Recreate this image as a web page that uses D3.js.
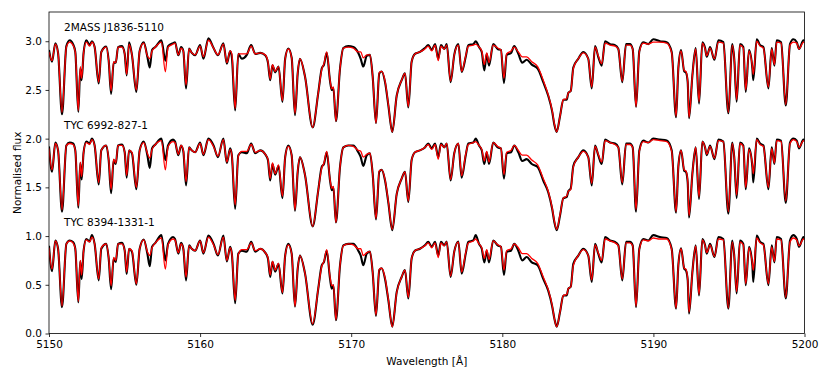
<!DOCTYPE html>
<html>
<head>
<meta charset="utf-8">
<script src="https://cdn.jsdelivr.net/npm/d3@7"></script>
<style>
  body { margin: 0; background: #fff; }
  svg { display: block; font-family: "DejaVu Sans", sans-serif; }
</style>
</head>
<body>
<svg id="chart" width="830" height="383"></svg>
<script>
// wavelength grid, in Angstrom past lambda0
const lambda0 = 5150;
const dLambda = [
  0.00, 0.20, 0.42, 0.60, 0.86, 1.15, 1.37, 1.59, 1.74, 1.94,
  2.07, 2.16, 2.29, 2.47, 2.69, 2.84, 3.02, 3.29, 3.46, 3.79,
  3.95, 4.11, 4.28, 4.42, 4.57, 4.83, 5.01, 5.14, 5.30, 5.49,
  5.78, 6.00, 6.27, 6.51, 6.67, 6.82, 7.04, 7.44, 7.70, 7.88,
  8.21, 8.34, 8.56, 8.74, 8.89, 9.07, 9.27, 9.45, 9.67, 10.00,
  10.22, 10.55, 10.89, 11.18, 11.54, 11.77, 11.99, 12.10, 12.32, 12.53,
  12.76, 13.09, 13.38, 13.65, 13.98, 14.31, 14.49, 14.64, 14.79, 14.97,
  15.19, 15.45, 15.63, 15.84, 16.06, 16.28, 16.46, 16.61, 16.94, 17.45,
  17.82, 18.05, 18.20, 18.38, 18.60, 18.71, 18.82, 18.99, 19.26, 19.48,
  19.81, 20.14, 20.47, 20.63, 20.80, 21.03, 21.24, 21.42, 21.64, 21.86,
  22.02, 22.24, 22.46, 22.72, 23.01, 23.34, 23.56, 23.78, 24.00, 24.22,
  24.55, 24.88, 25.10, 25.33, 25.55, 25.76, 25.94, 26.16, 26.32, 26.58,
  26.82, 27.09, 27.31, 27.58, 27.75, 28.08, 28.24, 28.46, 28.64, 28.81,
  28.97, 29.12, 29.40, 29.70, 29.91, 30.11, 30.29, 30.58, 30.79, 31.06,
  31.32, 31.61, 31.95, 32.34, 32.71, 33.04, 33.30, 33.45, 33.60, 33.82,
  34.04, 34.26, 34.37, 34.53, 34.70, 35.03, 35.36, 35.69, 35.92, 36.14,
  36.35, 36.58, 36.80, 37.13, 37.46, 37.68, 37.94, 38.19, 38.45, 38.63,
  38.85, 39.07, 39.33, 39.66, 39.99, 40.43, 40.88, 41.21, 41.50, 41.65,
  41.83, 42.04, 42.15, 42.27, 42.36, 42.58, 42.80, 43.02, 43.24, 43.42,
  43.53, 43.75, 44.04, 44.30, 44.63, 44.96, 45.22, 45.35, 45.51, 45.73,
  45.95, 46.11, 46.33, 46.55, 46.61, 46.84, 47.06, 47.28, 47.61, 47.83,
  48.01, 48.16, 48.45, 48.76, 49.04, 49.26, 49.49, 49.64, 49.93, 50.00
];

const starNames = ["2MASS J1836-5110", "TYC 6992-827-1", "TYC 8394-1331-1"];
const offsets = [2, 1, 0];

// 2MASS J1836-5110
const obsTop = [
  0.91, 0.79, 0.98, 0.88, 0.25, 0.95, 1.01, 0.97, 0.89, 0.275,
  0.72, 0.60, 0.88, 1.01, 0.96, 1.00, 0.94, 0.566, 0.89, 0.945,
  0.80, 0.46, 0.78, 0.78, 0.94, 0.95, 0.87, 0.65, 0.99, 0.86,
  0.48, 0.90, 0.99, 0.84, 0.73, 0.91, 0.94, 1.01, 0.80, 0.95,
  0.98, 0.99, 0.856, 0.94, 0.90, 0.515, 0.925, 0.88, 0.856, 0.96,
  0.82, 1.03, 0.93, 0.856, 0.98, 0.77, 0.90, 0.84, 0.29, 0.87,
  0.82, 0.86, 0.96, 0.87, 0.88, 0.856, 0.78, 0.60, 0.754, 0.68,
  0.74, 0.377, 0.82, 0.925, 0.83, 0.24, 0.67, 0.82, 0.64, 0.115,
  0.47, 0.72, 0.76, 0.88, 0.59, 0.50, 0.52, 0.18, 0.72, 0.93,
  0.95, 0.94, 0.88, 0.82, 0.74, 0.85, 0.86, 0.64, 0.16, 0.67,
  0.69, 0.58, 0.34, 0.07, 0.44, 0.60, 0.67, 0.32, 0.79, 0.87,
  0.89, 0.93, 0.96, 0.91, 0.97, 0.82, 0.96, 0.92, 0.97, 0.58,
  0.86, 0.97, 0.685, 0.84, 0.96, 0.97, 1.00, 0.94, 0.89, 0.70,
  0.87, 0.75, 0.97, 0.92, 0.91, 0.57, 0.86, 0.88, 0.95, 0.87,
  0.78, 0.81, 0.76, 0.72, 0.58, 0.44, 0.28, 0.14, 0.07, 0.23,
  0.40, 0.40, 0.47, 0.49, 0.73, 0.82, 0.89, 0.82, 0.515, 0.95,
  0.84, 0.75, 1.00, 0.97, 0.96, 0.92, 0.58, 0.97, 0.97, 0.92,
  0.326, 0.90, 0.99, 0.97, 1.02, 1.00, 0.99, 0.89, 0.22, 0.72,
  0.91, 0.69, 0.68, 0.58, 0.21, 0.65, 0.93, 0.36, 0.99, 0.93,
  0.84, 0.94, 0.81, 1.01, 0.99, 0.26, 0.97, 0.82, 0.38, 0.97,
  0.94, 0.48, 0.91, 0.72, 0.60, 1.02, 0.96, 0.94, 0.515, 0.93,
  0.75, 1.01, 0.99, 0.34, 0.97, 1.02, 0.99, 0.92, 1.01, 1.00
];
const modTop = [
  0.89, 0.80, 0.97, 0.88, 0.27, 0.94, 0.99, 0.96, 0.89, 0.29,
  0.74, 0.62, 0.88, 0.99, 0.95, 0.99, 0.94, 0.58, 0.89, 0.94,
  0.80, 0.49, 0.79, 0.78, 0.94, 0.94, 0.87, 0.66, 0.97, 0.86,
  0.50, 0.90, 0.98, 0.85, 0.82, 0.90, 0.94, 0.99, 0.685, 0.94,
  0.97, 0.98, 0.86, 0.93, 0.90, 0.55, 0.92, 0.88, 0.86, 0.95,
  0.84, 1.01, 0.93, 0.86, 0.97, 0.78, 0.90, 0.87, 0.31, 0.87,
  0.87, 0.87, 0.95, 0.87, 0.88, 0.86, 0.79, 0.61, 0.76, 0.69,
  0.74, 0.39, 0.82, 0.92, 0.83, 0.26, 0.68, 0.82, 0.64, 0.115,
  0.47, 0.71, 0.77, 0.89, 0.60, 0.51, 0.53, 0.18, 0.72, 0.93,
  0.94, 0.93, 0.89, 0.89, 0.83, 0.86, 0.86, 0.64, 0.16, 0.68,
  0.69, 0.59, 0.35, 0.07, 0.44, 0.60, 0.67, 0.33, 0.79, 0.87,
  0.89, 0.92, 0.95, 0.90, 0.96, 0.80, 0.95, 0.92, 0.96, 0.59,
  0.86, 0.96, 0.69, 0.85, 0.95, 0.96, 0.97, 0.94, 0.90, 0.76,
  0.88, 0.78, 0.96, 0.93, 0.91, 0.62, 0.87, 0.90, 0.94, 0.89,
  0.84, 0.84, 0.79, 0.74, 0.60, 0.45, 0.29, 0.15, 0.07, 0.23,
  0.40, 0.41, 0.47, 0.49, 0.72, 0.82, 0.88, 0.82, 0.53, 0.94,
  0.85, 0.77, 0.98, 0.96, 0.95, 0.92, 0.59, 0.96, 0.96, 0.92,
  0.33, 0.89, 0.98, 0.97, 0.99, 0.99, 0.98, 0.88, 0.23, 0.72,
  0.90, 0.70, 0.69, 0.59, 0.22, 0.65, 0.92, 0.38, 0.98, 0.92,
  0.85, 0.93, 0.82, 0.99, 0.98, 0.27, 0.96, 0.82, 0.40, 0.96,
  0.93, 0.50, 0.90, 0.74, 0.66, 1.00, 0.95, 0.93, 0.53, 0.92,
  0.76, 0.99, 0.98, 0.35, 0.96, 0.99, 0.98, 0.92, 0.99, 0.98
];

// TYC 6992-827-1
const obsMid = [
  0.92, 0.66, 0.96, 0.88, 0.25, 0.93, 0.96, 0.95, 0.88, 0.29,
  0.75, 0.58, 0.86, 0.97, 0.95, 1.00, 0.93, 0.53, 0.88, 0.93,
  0.78, 0.44, 0.78, 0.74, 0.93, 0.94, 0.86, 0.60, 0.88, 0.85,
  0.48, 0.88, 0.97, 0.83, 0.70, 0.90, 0.94, 1.00, 0.78, 0.93,
  0.99, 0.97, 0.83, 0.93, 0.87, 0.52, 0.91, 0.88, 0.86, 0.96,
  0.83, 1.00, 0.93, 0.81, 1.00, 0.75, 0.90, 0.83, 0.28, 0.83,
  0.86, 0.85, 0.95, 0.85, 0.88, 0.84, 0.78, 0.57, 0.74, 0.63,
  0.72, 0.39, 0.81, 0.93, 0.83, 0.26, 0.66, 0.81, 0.63, 0.10,
  0.47, 0.71, 0.74, 0.86, 0.57, 0.47, 0.50, 0.14, 0.71, 0.91,
  0.93, 0.93, 0.86, 0.81, 0.72, 0.83, 0.85, 0.64, 0.17, 0.66,
  0.68, 0.57, 0.34, 0.06, 0.43, 0.59, 0.66, 0.35, 0.78, 0.86,
  0.88, 0.91, 0.95, 0.90, 0.95, 0.81, 0.95, 0.91, 0.95, 0.57,
  0.85, 0.95, 0.60, 0.83, 0.95, 0.96, 1.00, 0.93, 0.88, 0.74,
  0.86, 0.74, 0.96, 0.91, 0.90, 0.59, 0.85, 0.86, 0.93, 0.86,
  0.77, 0.79, 0.74, 0.71, 0.57, 0.45, 0.28, 0.14, 0.06, 0.21,
  0.39, 0.40, 0.46, 0.49, 0.72, 0.81, 0.88, 0.81, 0.52, 0.93,
  0.83, 0.74, 0.99, 0.96, 0.95, 0.91, 0.53, 0.95, 0.95, 0.91,
  0.25, 0.88, 0.98, 0.96, 1.00, 0.99, 0.98, 0.88, 0.24, 0.71,
  0.88, 0.67, 0.66, 0.55, 0.19, 0.64, 0.91, 0.38, 0.97, 0.91,
  0.83, 0.93, 0.79, 0.99, 0.97, 0.23, 0.96, 0.81, 0.39, 0.96,
  0.93, 0.48, 0.90, 0.71, 0.55, 1.00, 0.95, 0.93, 0.48, 0.91,
  0.74, 0.99, 0.98, 0.34, 0.96, 1.00, 0.98, 0.90, 0.99, 0.98
];
const modMid = [
  0.90, 0.68, 0.95, 0.88, 0.27, 0.93, 0.95, 0.94, 0.88, 0.31,
  0.76, 0.61, 0.86, 0.96, 0.94, 0.99, 0.93, 0.55, 0.88, 0.93,
  0.79, 0.48, 0.79, 0.75, 0.93, 0.93, 0.86, 0.62, 0.88, 0.86,
  0.50, 0.88, 0.96, 0.85, 0.80, 0.89, 0.94, 0.98, 0.68, 0.92,
  0.97, 0.96, 0.84, 0.93, 0.88, 0.56, 0.91, 0.88, 0.86, 0.95,
  0.84, 0.99, 0.92, 0.82, 0.99, 0.76, 0.89, 0.83, 0.32, 0.82,
  0.87, 0.87, 0.94, 0.86, 0.88, 0.84, 0.79, 0.59, 0.75, 0.64,
  0.73, 0.41, 0.81, 0.92, 0.83, 0.27, 0.67, 0.81, 0.63, 0.10,
  0.47, 0.70, 0.75, 0.87, 0.58, 0.49, 0.51, 0.14, 0.71, 0.91,
  0.93, 0.92, 0.88, 0.87, 0.81, 0.84, 0.85, 0.64, 0.18, 0.67,
  0.68, 0.58, 0.35, 0.07, 0.43, 0.59, 0.66, 0.36, 0.78, 0.86,
  0.88, 0.91, 0.94, 0.89, 0.94, 0.79, 0.94, 0.91, 0.95, 0.58,
  0.85, 0.95, 0.62, 0.84, 0.94, 0.96, 0.97, 0.93, 0.89, 0.77,
  0.87, 0.76, 0.96, 0.92, 0.90, 0.63, 0.86, 0.88, 0.93, 0.88,
  0.83, 0.83, 0.78, 0.73, 0.59, 0.46, 0.29, 0.15, 0.07, 0.22,
  0.39, 0.41, 0.46, 0.48, 0.71, 0.81, 0.87, 0.81, 0.54, 0.92,
  0.84, 0.76, 0.98, 0.96, 0.94, 0.91, 0.55, 0.94, 0.94, 0.91,
  0.27, 0.87, 0.97, 0.96, 0.99, 0.98, 0.97, 0.87, 0.25, 0.71,
  0.88, 0.68, 0.67, 0.57, 0.21, 0.64, 0.91, 0.40, 0.97, 0.91,
  0.84, 0.92, 0.80, 0.98, 0.97, 0.25, 0.95, 0.81, 0.42, 0.95,
  0.92, 0.50, 0.89, 0.73, 0.64, 0.99, 0.94, 0.92, 0.50, 0.90,
  0.75, 0.98, 0.97, 0.36, 0.95, 0.99, 0.97, 0.91, 0.98, 0.97
];

// TYC 8394-1331-1
const obsBot = [
  0.90, 0.64, 0.955, 0.87, 0.27, 0.92, 0.955, 0.94, 0.87, 0.32,
  0.74, 0.56, 0.85, 0.97, 0.945, 1.01, 0.92, 0.545, 0.87, 0.92,
  0.77, 0.455, 0.77, 0.735, 0.92, 0.93, 0.85, 0.61, 0.87, 0.84,
  0.50, 0.87, 0.965, 0.82, 0.69, 0.89, 0.93, 1.01, 0.75, 0.92,
  0.99, 0.97, 0.82, 0.93, 0.87, 0.545, 0.905, 0.87, 0.85, 0.955,
  0.82, 1.005, 0.92, 0.80, 1.005, 0.74, 0.89, 0.82, 0.31, 0.82,
  0.85, 0.84, 0.94, 0.84, 0.87, 0.83, 0.77, 0.58, 0.735, 0.635,
  0.715, 0.41, 0.80, 0.92, 0.82, 0.275, 0.665, 0.80, 0.62, 0.09,
  0.46, 0.70, 0.735, 0.85, 0.56, 0.46, 0.495, 0.136, 0.70, 0.905,
  0.92, 0.92, 0.85, 0.80, 0.70, 0.82, 0.84, 0.63, 0.18, 0.65,
  0.67, 0.56, 0.34, 0.07, 0.425, 0.58, 0.65, 0.36, 0.77, 0.85,
  0.87, 0.905, 0.94, 0.89, 0.94, 0.80, 0.94, 0.905, 0.945, 0.58,
  0.84, 0.945, 0.615, 0.82, 0.94, 0.955, 1.01, 0.92, 0.87, 0.73,
  0.85, 0.73, 0.955, 0.905, 0.89, 0.60, 0.84, 0.85, 0.92, 0.85,
  0.75, 0.785, 0.73, 0.70, 0.56, 0.44, 0.28, 0.15, 0.07, 0.22,
  0.39, 0.39, 0.46, 0.48, 0.715, 0.80, 0.87, 0.80, 0.53, 0.92,
  0.82, 0.73, 0.99, 0.955, 0.94, 0.905, 0.545, 0.94, 0.94, 0.905,
  0.27, 0.87, 0.97, 0.955, 1.01, 0.99, 0.98, 0.87, 0.255, 0.70,
  0.875, 0.665, 0.65, 0.55, 0.205, 0.63, 0.905, 0.39, 0.97, 0.905,
  0.82, 0.92, 0.785, 0.99, 0.97, 0.255, 0.955, 0.80, 0.41, 0.955,
  0.92, 0.495, 0.89, 0.70, 0.53, 1.005, 0.94, 0.92, 0.495, 0.905,
  0.73, 0.99, 0.97, 0.36, 0.955, 1.01, 0.97, 0.89, 0.99, 0.97
];
const modBot = [
  0.88, 0.66, 0.95, 0.87, 0.28, 0.92, 0.95, 0.93, 0.87, 0.33,
  0.75, 0.60, 0.85, 0.96, 0.94, 0.99, 0.92, 0.56, 0.88, 0.92,
  0.78, 0.49, 0.78, 0.75, 0.92, 0.92, 0.85, 0.63, 0.87, 0.85,
  0.51, 0.87, 0.96, 0.84, 0.80, 0.88, 0.93, 0.98, 0.66, 0.91,
  0.97, 0.96, 0.83, 0.92, 0.87, 0.58, 0.90, 0.87, 0.85, 0.95,
  0.83, 0.99, 0.91, 0.81, 0.99, 0.75, 0.88, 0.82, 0.34, 0.81,
  0.86, 0.86, 0.93, 0.85, 0.87, 0.83, 0.78, 0.60, 0.74, 0.65,
  0.72, 0.42, 0.80, 0.91, 0.82, 0.28, 0.67, 0.80, 0.62, 0.10,
  0.46, 0.69, 0.74, 0.86, 0.58, 0.49, 0.50, 0.14, 0.70, 0.90,
  0.92, 0.91, 0.87, 0.87, 0.80, 0.83, 0.84, 0.63, 0.19, 0.66,
  0.67, 0.57, 0.35, 0.07, 0.42, 0.58, 0.65, 0.37, 0.77, 0.85,
  0.87, 0.90, 0.93, 0.88, 0.93, 0.78, 0.93, 0.90, 0.94, 0.59,
  0.84, 0.94, 0.63, 0.83, 0.93, 0.95, 0.97, 0.92, 0.88, 0.77,
  0.86, 0.76, 0.95, 0.91, 0.89, 0.65, 0.85, 0.87, 0.92, 0.88,
  0.82, 0.82, 0.77, 0.72, 0.58, 0.45, 0.29, 0.15, 0.07, 0.22,
  0.39, 0.40, 0.46, 0.48, 0.70, 0.80, 0.86, 0.80, 0.55, 0.91,
  0.83, 0.75, 0.97, 0.95, 0.93, 0.90, 0.56, 0.93, 0.93, 0.90,
  0.28, 0.86, 0.96, 0.95, 0.98, 0.97, 0.97, 0.86, 0.26, 0.70,
  0.87, 0.67, 0.66, 0.56, 0.22, 0.63, 0.90, 0.40, 0.96, 0.90,
  0.83, 0.91, 0.79, 0.97, 0.96, 0.26, 0.94, 0.80, 0.43, 0.94,
  0.91, 0.51, 0.88, 0.72, 0.65, 0.98, 0.93, 0.91, 0.51, 0.89,
  0.74, 0.97, 0.96, 0.37, 0.94, 0.98, 0.96, 0.90, 0.97, 0.96
];

const observed = [obsTop, obsMid, obsBot];
const models = [modTop, modMid, modBot];

const xTicks = [5150, 5160, 5170, 5180, 5190, 5200];
const yTicks = [0.0, 0.5, 1.0, 1.5, 2.0, 2.5, 3.0];

const width = 830;
const height = 383;
const margin = { top: 12, right: 25.5, bottom: 49.5, left: 49 };
const innerW = width - margin.left - margin.right;
const innerH = height - margin.top - margin.bottom;
const fontSize = 10.5;

const svg = d3.select("#chart");

const x = d3.scaleLinear().domain([5150, 5200]).range([0, innerW]);
const y = d3.scaleLinear().domain([0, 3.3]).range([innerH, 0]);

const g = svg.append("g").attr("transform", `translate(${margin.left},${margin.top})`);

g.append("clipPath")
  .attr("id", "plot-clip")
  .append("rect")
  .attr("width", innerW)
  .attr("height", innerH);

const wave = dLambda.map((d) => lambda0 + d);

const toPoints = (flux, offset) =>
  wave.map((w, i) => [w, flux[i] + offset]).filter((p) => Number.isFinite(p[1]));

const line = d3.line()
  .x((d) => x(d[0]))
  .y((d) => y(d[1]))
  .curve(d3.curveMonotoneX);

const plot = g.append("g").attr("clip-path", "url(#plot-clip)");

starNames.forEach((name, i) => {
  plot.append("path")
    .attr("d", line(toPoints(observed[i], offsets[i])))
    .attr("fill", "none")
    .attr("stroke", "#000")
    .attr("stroke-width", 2.1)
    .attr("stroke-linejoin", "round");
  plot.append("path")
    .attr("d", line(toPoints(models[i], offsets[i])))
    .attr("fill", "none")
    .attr("stroke", "#ff0000")
    .attr("stroke-width", 1.3)
    .attr("stroke-linejoin", "round");
  g.append("text")
    .attr("x", x(5151))
    .attr("y", y(offsets[i] + 1.1))
    .attr("font-size", fontSize)
    .attr("fill", "#000")
    .text(name);
});

// axes, matplotlib look
const xAxis = g.append("g")
  .attr("transform", `translate(0,${innerH})`)
  .call(d3.axisBottom(x).tickValues(xTicks).tickFormat(d3.format("d")).tickSizeOuter(0).tickSize(3.5).tickPadding(3.5));
const yAxis = g.append("g")
  .call(d3.axisLeft(y).tickValues(yTicks).tickFormat(d3.format(".1f")).tickSizeOuter(0).tickSize(3.5).tickPadding(3.5));

[xAxis, yAxis].forEach((ax) => {
  ax.select(".domain").remove();
  ax.selectAll("line").attr("stroke", "#000").attr("stroke-width", 0.8);
  ax.selectAll("text").attr("font-size", fontSize).attr("fill", "#000").attr("font-family", "DejaVu Sans");
});

g.append("rect")
  .attr("width", innerW)
  .attr("height", innerH)
  .attr("fill", "none")
  .attr("stroke", "#000")
  .attr("stroke-width", 0.8);

g.append("text")
  .attr("x", innerW / 2)
  .attr("y", innerH + 31)
  .attr("text-anchor", "middle")
  .attr("font-size", fontSize)
  .text("Wavelength [Å]");

g.append("text")
  .attr("transform", `translate(${-28},${innerH / 2}) rotate(-90)`)
  .attr("text-anchor", "middle")
  .attr("font-size", fontSize)
  .text("Normalised flux");
</script>
</body>
</html>
